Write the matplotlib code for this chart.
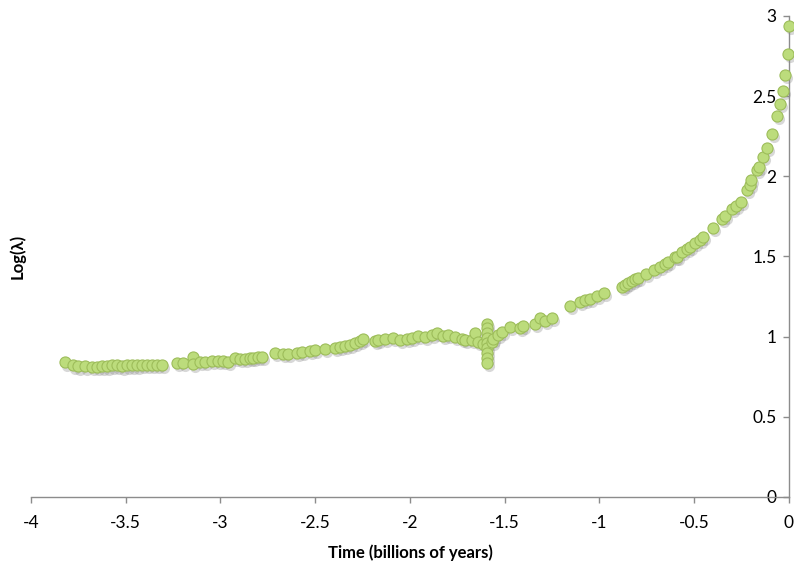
import matplotlib.pyplot as plt
import matplotlib.transforms as mtransforms

# values
time_gyr = [
    -3.821, -3.778, -3.752, -3.715, -3.678, -3.652, -3.625, -3.599, -3.573, -3.546,
    -3.520, -3.494, -3.467, -3.441, -3.414, -3.388, -3.361, -3.335, -3.309,
    -3.230, -3.198, -3.145, -3.145, -3.108, -3.082, -3.045, -3.013, -2.987, -2.960,
    -2.923, -2.897, -2.871, -2.844, -2.828, -2.802, -2.781, -2.712, -2.670, -2.644,
    -2.596, -2.570, -2.528, -2.501, -2.449, -2.396, -2.369, -2.343, -2.317, -2.290,
    -2.264, -2.248, -2.185, -2.169, -2.132, -2.090, -2.053, -2.016, -1.989, -1.958,
    -1.921, -1.884, -1.858, -1.826, -1.799, -1.763, -1.726, -1.710, -1.673, -1.657,
    -1.641, -1.615, -1.594, -1.594, -1.594, -1.594, -1.594, -1.594, -1.594, -1.594,
    -1.594, -1.567, -1.562, -1.536, -1.515, -1.472, -1.420, -1.404, -1.340, -1.314,
    -1.288, -1.251, -1.156, -1.103, -1.077, -1.050, -1.013, -0.976, -0.881, -0.865,
    -0.850, -0.828, -0.813, -0.797, -0.755, -0.712, -0.681, -0.654, -0.639, -0.602,
    -0.591, -0.565, -0.538, -0.522, -0.496, -0.470, -0.454, -0.401, -0.354, -0.338,
    -0.301, -0.280, -0.253, -0.222, -0.206, -0.201, -0.169, -0.158, -0.137, -0.116,
    -0.090, -0.063, -0.047, -0.032, -0.021, -0.005, 0.0,
]
log_lambda = [
    0.840, 0.820, 0.815, 0.815, 0.810, 0.810, 0.815, 0.815, 0.820, 0.820,
    0.815, 0.820, 0.820, 0.820, 0.825, 0.825, 0.825, 0.825, 0.825,
    0.836, 0.836, 0.873, 0.830, 0.842, 0.842, 0.848, 0.848, 0.848, 0.842,
    0.867, 0.861, 0.861, 0.867, 0.867, 0.873, 0.873, 0.898, 0.892, 0.892,
    0.898, 0.904, 0.911, 0.917, 0.923, 0.929, 0.936, 0.942, 0.948, 0.961,
    0.973, 0.986, 0.973, 0.980, 0.986, 0.992, 0.980, 0.986, 0.992, 1.005,
    0.998, 1.011, 1.023, 1.005, 1.011, 0.998, 0.986, 0.980, 0.980, 1.023,
    0.967, 0.955, 1.079, 1.054, 1.023, 0.992, 0.961, 0.929, 0.898, 0.867,
    0.836, 0.967, 0.986, 1.011, 1.029, 1.061, 1.054, 1.067, 1.079, 1.117,
    1.098, 1.117, 1.191, 1.216, 1.229, 1.235, 1.254, 1.272, 1.310, 1.322,
    1.335, 1.347, 1.360, 1.366, 1.391, 1.416, 1.435, 1.453, 1.466, 1.497,
    1.497, 1.528, 1.547, 1.560, 1.585, 1.603, 1.622, 1.678, 1.734, 1.753,
    1.797, 1.815, 1.840, 1.915, 1.946, 1.978, 2.040, 2.059, 2.121, 2.177,
    2.265, 2.377, 2.452, 2.533, 2.633, 2.764, 2.938,
]

x_ticks = [-4, -3.5, -3, -2.5, -2, -1.5, -1, -0.5, 0]
y_ticks = [0, 0.5, 1, 1.5, 2, 2.5, 3]

plt.rcParams['font.family'] = ['Lato', 'DejaVu Sans']

fig = plt.figure(figsize=(7.94, 5.67), dpi=100)
ax = fig.add_axes([0.039, 0.1235, 0.9547, 0.8485])

# soft drop shadow under the markers
shadow = mtransforms.offset_copy(ax.transData, fig=fig, x=1.2, y=-2.4, units='points')
ax.scatter(time_gyr, log_lambda, s=64, color='#7f7f7f', alpha=0.3,
           linewidths=0, transform=shadow, zorder=2, clip_on=False)
ax.scatter(time_gyr, log_lambda, s=64, facecolor='#bcdc7c', edgecolor='#9dbd5a',
           linewidths=0.8, zorder=3, clip_on=False)

ax.set_xlim(-4, 0)
ax.set_ylim(0, 3)
ax.set_xticks(x_ticks)
ax.set_xticklabels([f'{t:g}' for t in x_ticks])
ax.set_yticks(y_ticks)
ax.set_yticklabels([f'{t:g}' for t in y_ticks])

for side in ['top', 'right']:
    ax.spines[side].set_visible(False)
ax.spines['left'].set_position(('data', 0))
for side in ['left', 'bottom']:
    ax.spines[side].set_color('#8c8c8c')
    ax.spines[side].set_linewidth(1.0)

ax.tick_params(axis='both', colors='#8c8c8c', labelcolor='black',
               labelsize=12.5, length=4, width=1.0, direction='out')
ax.tick_params(axis='x', pad=9)
ax.tick_params(axis='y', pad=5)

ax.set_xlabel('Time (billions of years)', fontsize=12, fontweight='bold', labelpad=10)
ax.text(-0.018, 0.5, 'Log(λ)', transform=ax.transAxes, rotation=90,
        fontsize=12, fontweight='bold', ha='center', va='center')

fig.savefig('out.png', dpi=100)
